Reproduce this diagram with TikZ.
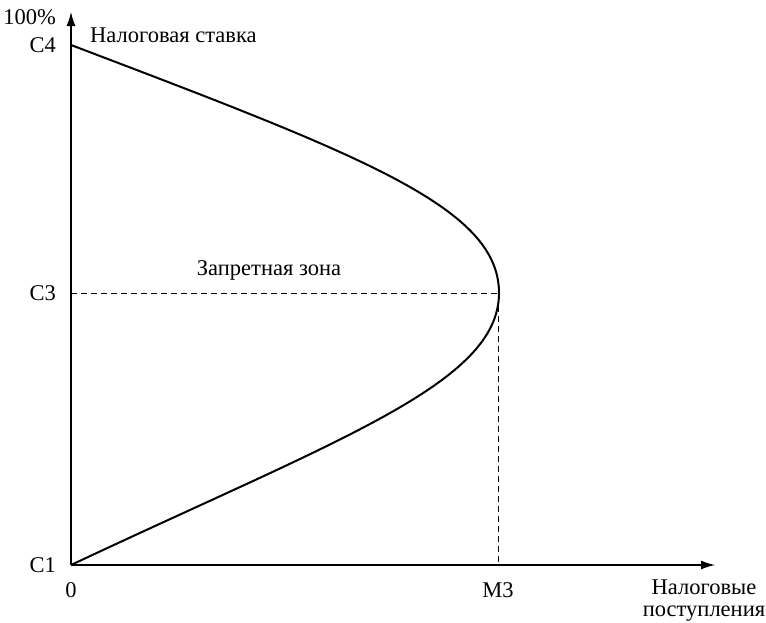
\documentclass[tikz,border=0pt]{standalone}
\usepackage{fontspec}
\setmainfont{Liberation Serif}
\usetikzlibrary{arrows.meta}
\begin{document}
\begin{tikzpicture}[x=1pt,y=-1pt,
  lbl/.style={font=\fontsize{22.5}{22}\selectfont, inner sep=0pt},
  axis/.style={line width=1.3pt, -{Latex[length=14pt,width=9pt]}},
  curve/.style={line width=2pt},
  guide/.style={line width=1pt, dash pattern=on 6pt off 4pt}]
\useasboundingbox (0,0) rectangle (766,622);
\coordinate (O) at (71,565);
\coordinate (ytop) at (71,12);
\coordinate (xend) at (715,565);
\coordinate (C4) at (71,45);
\coordinate (C3) at (71,293);
\coordinate (nose) at (499,293);
\coordinate (M3) at (498,565);
\draw[axis] (O) -- (ytop);
\draw[axis] (O) -- (xend);
\draw[guide] (C3) -- (nose);
\draw[guide] (498,296) -- (M3);
\draw[curve] (O) .. controls (341,438) and (499,383) .. (nose)
  .. controls (499,208) and (366,157) .. (C4);
\node[lbl, anchor=east] (p100) at (56,17) {100\%};
\node[lbl, anchor=east] (lc4) at (56,45) {С4};
\node[lbl, anchor=west] (rate) at (90,35) {Налоговая ставка};
\node[lbl, anchor=east] (lc3) at (56,293) {С3};
\node[lbl] (zone) at (269,270) {Запретная зона};
\node[lbl, anchor=east] (lc1) at (56,565) {С1};
\node[lbl] (zero) at (71,590) {0};
\node[lbl] (lm3) at (498,590) {М3};
\node[lbl, align=center] (rev) at (704,601) {Налоговые\\поступления};
\end{tikzpicture}
\end{document}
